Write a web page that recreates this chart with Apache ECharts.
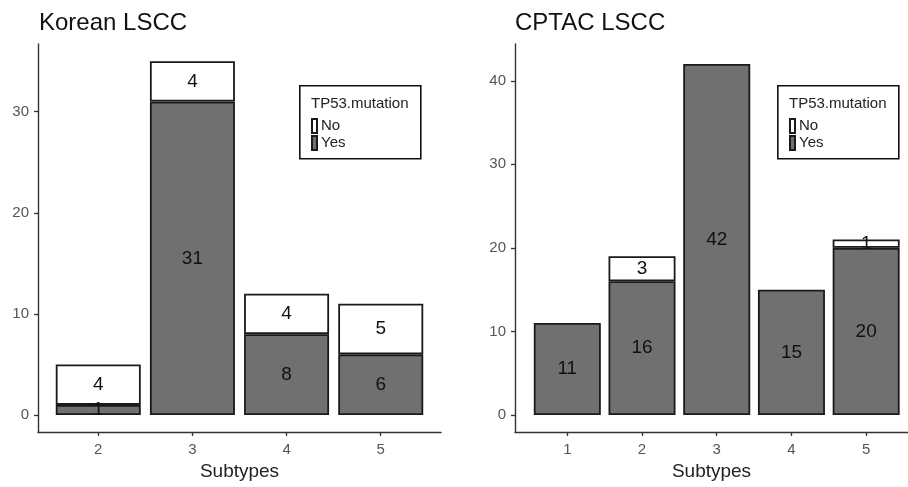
<!DOCTYPE html>
<html>
<head>
<meta charset="utf-8">
<script src="https://cdn.jsdelivr.net/npm/echarts@6/dist/echarts.min.js"></script>
<style>
html,body{margin:0;padding:0;background:#fff;}
#c{width:908px;height:487px;}
</style>
</head>
<body>
<div id="c"></div>
<script>
// ---- data ----
const koreanCats = [2, 3, 4, 5];
const koreanYes = [1, 31, 8, 6];
const koreanNo = [4, 4, 4, 5];
const cptacCats = [1, 2, 3, 4, 5];
const cptacYes = [11, 16, 42, 15, 20];
const cptacNo = [0, 3, 0, 0, 1];
const koreanYTicks = [0, 10, 20, 30];
const cptacYTicks = [0, 10, 20, 30, 40];
const legendNames = ['No', 'Yes'];

const FONT = '"Liberation Sans", Arial, sans-serif';
const YES_COLOR = '#707070';
const NO_COLOR = '#ffffff';
const EDGE = '#1a1a1a';

// value first (stacked dimension), subtype second
function pts(cats, vals) {
  return cats.map((c, i) => [vals[i] === 0 ? '-' : vals[i], c]);
}

function xAxis(gridIndex, cats, min, max) {
  return {
    type: 'value', gridIndex, min, max,
    name: 'Subtypes', nameLocation: 'middle', nameGap: 29,
    nameTextStyle: { fontFamily: FONT, fontSize: 19, color: '#222' },
    axisLine: { show: true, onZero: false, lineStyle: { color: '#333', width: 1.4 } },
    axisTick: { show: true, customValues: cats, length: 4, lineStyle: { color: '#333', width: 1.3 } },
    axisLabel: { customValues: cats, margin: 10, fontFamily: FONT, fontSize: 15, color: '#555' },
    splitLine: { show: false }
  };
}
function yAxis(gridIndex, ticks, min, max) {
  return {
    type: 'value', gridIndex, min, max,
    axisLine: { show: true, onZero: false, lineStyle: { color: '#333', width: 1.4 } },
    axisTick: { show: true, customValues: ticks, length: 4, lineStyle: { color: '#333', width: 1.3 } },
    axisLabel: { customValues: ticks, margin: 9, fontFamily: FONT, fontSize: 15, color: '#555' },
    splitLine: { show: false }
  };
}
function barSeries(name, xi, cats, vals, color, width) {
  return {
    name, type: 'bar', xAxisIndex: xi, yAxisIndex: xi, stack: 's' + xi,
    barWidth: width,
    data: pts(cats, vals),
    encode: { x: 1, y: 0 },
    itemStyle: { color, borderColor: EDGE, borderWidth: 1.8 },
    label: {
      show: true, position: 'inside', fontFamily: FONT, fontSize: 19, color: '#111',
      formatter: p => p.value[0]
    },
    emphasis: { disabled: true }
  };
}
function legendBox(left, top) {
  return [
    { type: 'rect', left: left, top: top, shape: { width: 121, height: 73 },
      style: { fill: '#fff', stroke: '#111', lineWidth: 1.6 }, z: 1 },
    { type: 'text', left: left + 12, top: top + 11,
      style: { text: 'TP53.mutation', font: '15px ' + FONT, fill: '#222' }, z: 2 }
  ];
}
function legend(left, top) {
  return {
    data: legendNames, orient: 'vertical', left: left, top: top,
    icon: 'rect', itemWidth: 5, itemHeight: 14, itemGap: 1, padding: 0,
    selectedMode: false,
    textStyle: { fontFamily: FONT, fontSize: 15, color: '#222', padding: [0, 0, 0, -1] },
    z: 5
  };
}

const chart = echarts.init(document.getElementById('c'));
chart.setOption({
  animation: false,
  backgroundColor: '#fff',
  title: [
    { text: 'Korean LSCC', left: 34, top: 6, textStyle: { fontFamily: FONT, fontSize: 24, fontWeight: 'normal', color: '#111' } },
    { text: 'CPTAC LSCC', left: 510, top: 6, textStyle: { fontFamily: FONT, fontSize: 24, fontWeight: 'normal', color: '#111' } }
  ],
  grid: [
    { left: 38, top: 44, width: 403, height: 388 },
    { left: 515, top: 44, width: 393, height: 388 }
  ],
  xAxis: [xAxis(0, koreanCats, 1.36, 5.64), xAxis(1, cptacCats, 0.3, 5.56)],
  yAxis: [yAxis(0, koreanYTicks, -1.68, 36.7), yAxis(1, cptacYTicks, -2.04, 44.4)],
  legend: [legend(311, 118), legend(789, 118)],
  graphic: [...legendBox(299, 85), ...legendBox(777, 85)],
  series: [
    barSeries('Yes', 0, koreanCats, koreanYes, YES_COLOR, 85),
    barSeries('No', 0, koreanCats, koreanNo, NO_COLOR, 85),
    barSeries('Yes', 1, cptacCats, cptacYes, YES_COLOR, 67),
    barSeries('No', 1, cptacCats, cptacNo, NO_COLOR, 67)
  ]
});
</script>
</body>
</html>
